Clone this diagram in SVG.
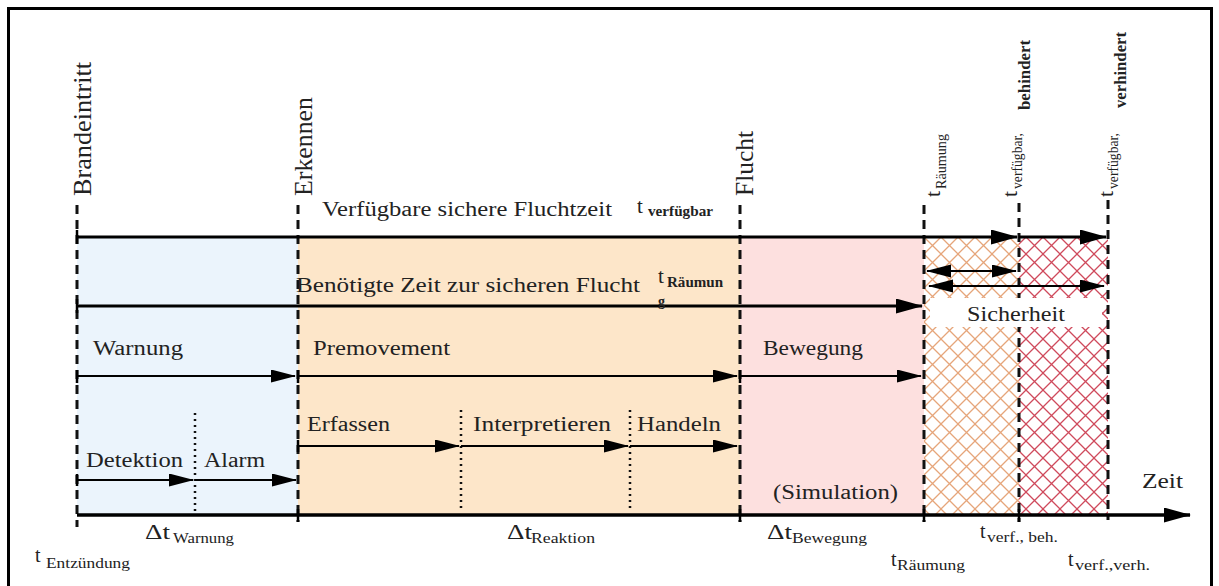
<svg xmlns="http://www.w3.org/2000/svg" width="1219" height="586" viewBox="0 0 1219 586">
<style>
.lbl{font-family:"Liberation Serif","DejaVu Serif",serif;fill:#222}
.cm{font-size:20px}
.vt{font-size:26px}
.sub{font-size:15px}
.bsub{font-size:14px;font-weight:bold}
.dash{stroke:#111;stroke-width:3;stroke-dasharray:9 6;fill:none}
.dot{stroke:#111;stroke-width:2.5;stroke-dasharray:2 4;fill:none}
.thick{stroke:#000;stroke-width:3.2;fill:none}
.thin{stroke:#000;stroke-width:2;fill:none}
.tick{stroke:#000;stroke-width:2.5}
</style>
<defs>
<marker id="ab" markerUnits="userSpaceOnUse" markerWidth="28" markerHeight="16" refX="26" refY="7.5" orient="auto-start-reverse" viewBox="0 0 28 16"><path d="M0,0 L27,7.5 L0,15 z" fill="#000"/></marker>
<marker id="am" markerUnits="userSpaceOnUse" markerWidth="26" markerHeight="14" refX="24" refY="6.5" orient="auto-start-reverse" viewBox="0 0 26 14"><path d="M0,0 L25,6.5 L0,13 z" fill="#000"/></marker>
<pattern id="hO" x="924" y="237" width="17" height="17" patternUnits="userSpaceOnUse">
<rect width="17" height="17" fill="#fff"/>
<path d="M-2,-2 L19,19 M19,-2 L-2,19" stroke="#e6a57a" stroke-width="1.3"/>
</pattern>
<pattern id="hR" x="924" y="237" width="17" height="17" patternUnits="userSpaceOnUse">
<rect width="17" height="17" fill="#fff"/>
<path d="M-2,-2 L19,19 M19,-2 L-2,19" stroke="#cf4a5c" stroke-width="1.3"/>
</pattern>
</defs>
<rect width="1219" height="586" fill="#fff"/>
<rect x="8.5" y="8.5" width="1203" height="600" fill="none" stroke="#000" stroke-width="3"/>

<g id="regions">
<rect id="warnung-region" x="77" y="237" width="221" height="278" fill="#ebf4fc"/>
<rect id="reaktion-region" x="298" y="237" width="442" height="278" fill="#fde6c9"/>
<rect id="bewegung-region" x="740" y="237" width="184" height="278" fill="#fde0df"/>
<rect id="hatch-beh" x="924" y="237" width="95" height="278" fill="url(#hO)"/>
<rect id="hatch-verh" x="1019" y="237" width="89" height="278" fill="url(#hR)"/>
</g>

<g id="timelines">
<line class="dash" x1="77" y1="205" x2="77" y2="527"/>
<line class="dash" x1="298" y1="205" x2="298" y2="522"/>
<line class="dash" x1="740" y1="205" x2="740" y2="522"/>
<line class="dash" x1="924" y1="205" x2="924" y2="522"/>
<line class="dash" x1="1019" y1="203" x2="1019" y2="522"/>
<line class="dash" x1="1108" y1="200" x2="1108" y2="520"/>
<line class="dot" x1="195" y1="413" x2="195" y2="512"/>
<line class="dot" x1="461" y1="410" x2="461" y2="512"/>
<line class="dot" x1="630" y1="410" x2="630" y2="512"/>
</g>

<rect id="sicherheit-box" x="930" y="298" width="172" height="29" fill="#fff"/>

<g id="connectors">
<line class="tick" x1="77" y1="230" x2="77" y2="244"/>
<line class="tick" x1="77" y1="299" x2="77" y2="313"/>
<line class="tick" x1="77" y1="370" x2="77" y2="383"/>
<line class="tick" x1="298" y1="370" x2="298" y2="383"/>
<line class="tick" x1="740" y1="370" x2="740" y2="383"/>
<line class="tick" x1="298" y1="440" x2="298" y2="452"/>
<line class="tick" x1="77" y1="474" x2="77" y2="486"/>
<line class="thick" x1="77" y1="237" x2="1017" y2="237" marker-end="url(#ab)"/>
<line class="thick" x1="1019" y1="237" x2="1106" y2="237" marker-end="url(#ab)"/>
<line class="thick" x1="77" y1="306" x2="922" y2="306" marker-end="url(#ab)"/>
<line class="thin" x1="927" y1="271" x2="1016" y2="271" marker-start="url(#am)" marker-end="url(#am)"/>
<line class="thin" x1="929" y1="286" x2="1104" y2="286" marker-start="url(#am)" marker-end="url(#am)"/>
<line class="thin" x1="77" y1="376" x2="295" y2="376" marker-end="url(#am)"/>
<line class="thin" x1="298" y1="376" x2="737" y2="376" marker-end="url(#am)"/>
<line class="thin" x1="740" y1="376" x2="921" y2="376" marker-end="url(#am)"/>
<line class="thin" x1="298" y1="446" x2="459" y2="446" marker-end="url(#am)"/>
<line class="thin" x1="461" y1="446" x2="628" y2="446" marker-end="url(#am)"/>
<line class="thin" x1="630" y1="446" x2="737" y2="446" marker-end="url(#am)"/>
<line class="thin" x1="77" y1="480" x2="193" y2="480" marker-end="url(#am)"/>
<line class="thin" x1="195" y1="480" x2="296" y2="480" marker-end="url(#am)"/>
<line id="axis" x1="77" y1="515" x2="1190" y2="515" stroke="#000" stroke-width="3.5" marker-end="url(#ab)"/>
<line class="tick" x1="298" y1="509" x2="298" y2="522"/>
<line class="tick" x1="740" y1="509" x2="740" y2="522"/>
<line class="tick" x1="924" y1="509" x2="924" y2="522"/>
<line class="tick" x1="1019" y1="509" x2="1019" y2="522"/>
</g>

<g id="vertical-labels" class="lbl">
<text class="vt" transform="translate(91,196) rotate(-90)" textLength="134" lengthAdjust="spacingAndGlyphs">Brandeintritt</text>
<text class="vt" transform="translate(312,196) rotate(-90)" textLength="99" lengthAdjust="spacingAndGlyphs">Erkennen</text>
<text class="vt" transform="translate(753,196) rotate(-90)" textLength="65" lengthAdjust="spacingAndGlyphs">Flucht</text>
<g transform="translate(940,197) rotate(-90)">
<text font-size="22">t</text>
<text x="8" y="6" font-size="14" textLength="55" lengthAdjust="spacingAndGlyphs">Räumung</text>
</g>
<g transform="translate(1017,197) rotate(-90)">
<text font-size="22">t</text>
<text x="8" y="5" font-size="14" textLength="56" lengthAdjust="spacingAndGlyphs">verfügbar,</text>
<text x="87" y="13" font-size="16" font-weight="bold" textLength="70" lengthAdjust="spacingAndGlyphs">behindert</text>
</g>
<g transform="translate(1113,197) rotate(-90)">
<text font-size="22">t</text>
<text x="8" y="5" font-size="14" textLength="56" lengthAdjust="spacingAndGlyphs">verfügbar,</text>
<text x="89" y="13" font-size="16" font-weight="bold" textLength="76" lengthAdjust="spacingAndGlyphs">verhindert</text>
</g>
</g>

<g id="row-labels" class="lbl cm">
<text x="322" y="216" textLength="290" lengthAdjust="spacingAndGlyphs">Verfügbare sichere Fluchtzeit</text>
<text x="637" y="213" font-size="21">t</text>
<text x="648" y="216" class="bsub" textLength="65" lengthAdjust="spacingAndGlyphs">verfügbar</text>
<text x="296" y="292" textLength="344" lengthAdjust="spacingAndGlyphs">Benötigte Zeit zur sicheren Flucht</text>
<text x="658" y="283" font-size="21">t</text>
<text x="667" y="287" class="bsub" textLength="56" lengthAdjust="spacingAndGlyphs">Räumun</text>
<text x="658" y="306" class="bsub">g</text>
<text x="93" y="355" textLength="90" lengthAdjust="spacingAndGlyphs">Warnung</text>
<text x="313" y="355" textLength="137" lengthAdjust="spacingAndGlyphs">Premovement</text>
<text x="763" y="355" textLength="100" lengthAdjust="spacingAndGlyphs">Bewegung</text>
<text x="307" y="431" textLength="83" lengthAdjust="spacingAndGlyphs">Erfassen</text>
<text x="473" y="431" textLength="138" lengthAdjust="spacingAndGlyphs">Interpretieren</text>
<text x="637" y="431" textLength="84" lengthAdjust="spacingAndGlyphs">Handeln</text>
<text x="86" y="467" textLength="97" lengthAdjust="spacingAndGlyphs">Detektion</text>
<text x="204" y="467" textLength="61" lengthAdjust="spacingAndGlyphs">Alarm</text>
<text x="773" y="499" textLength="125" lengthAdjust="spacingAndGlyphs">(Simulation)</text>
<text x="967" y="321" textLength="98" lengthAdjust="spacingAndGlyphs">Sicherheit</text>
<text x="1142" y="488" font-size="22" textLength="41" lengthAdjust="spacingAndGlyphs">Zeit</text>
</g>

<g id="axis-labels" class="lbl">
<text x="145" y="539" font-size="20" textLength="25" lengthAdjust="spacingAndGlyphs">Δt</text>
<text x="173" y="543" class="sub" textLength="61" lengthAdjust="spacingAndGlyphs">Warnung</text>
<text x="35" y="562" font-size="20">t</text>
<text x="46" y="568" class="sub" textLength="84" lengthAdjust="spacingAndGlyphs">Entzündung</text>
<text x="507" y="539" font-size="20" textLength="25" lengthAdjust="spacingAndGlyphs">Δt</text>
<text x="531" y="543" class="sub" textLength="64" lengthAdjust="spacingAndGlyphs">Reaktion</text>
<text x="767" y="539" font-size="20" textLength="25" lengthAdjust="spacingAndGlyphs">Δt</text>
<text x="792" y="543" class="sub" textLength="75" lengthAdjust="spacingAndGlyphs">Bewegung</text>
<text x="891" y="566" font-size="20">t</text>
<text x="897" y="570" class="sub" textLength="68" lengthAdjust="spacingAndGlyphs">Räumung</text>
<text x="980" y="538" font-size="20">t</text>
<text x="987" y="542" class="sub" textLength="71" lengthAdjust="spacingAndGlyphs">verf., beh.</text>
<text x="1068" y="566" font-size="20">t</text>
<text x="1075" y="570" class="sub" textLength="75" lengthAdjust="spacingAndGlyphs">verf.,verh.</text>
</g>
</svg>
